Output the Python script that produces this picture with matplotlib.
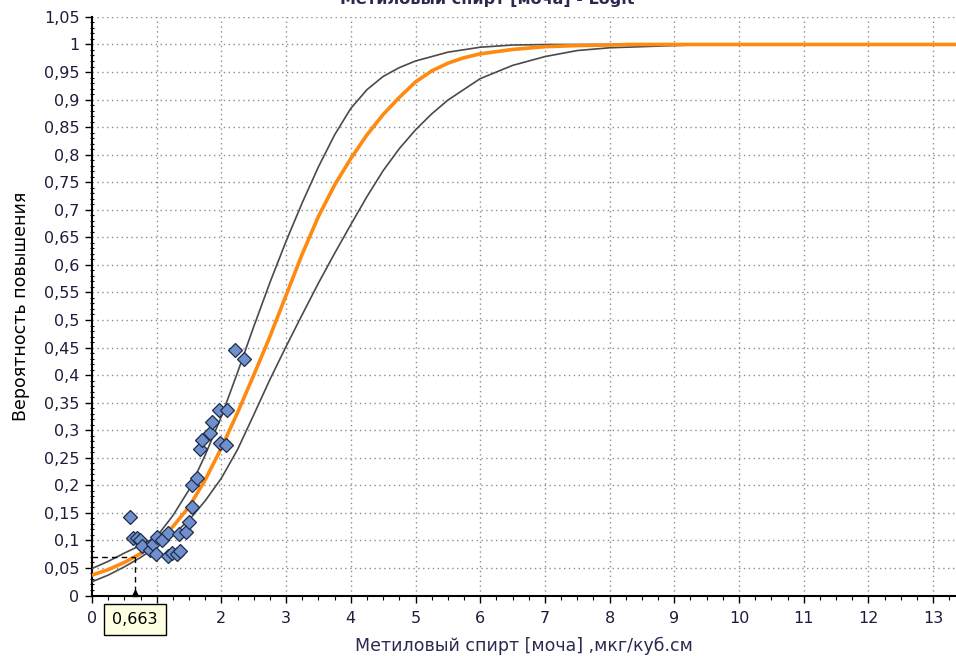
import matplotlib
matplotlib.use("Agg")
import matplotlib.pyplot as plt
from matplotlib.ticker import MultipleLocator, FuncFormatter

# Observed points
obs_x = [0.59, 0.64, 0.69, 0.74, 0.77, 0.90, 0.94, 0.99, 1.00, 1.08, 1.18, 1.18,
         1.23, 1.31, 1.36, 1.35, 1.45, 1.50, 1.55, 1.54, 1.62, 1.67, 1.70, 1.82,
         1.85, 1.96, 2.08, 1.98, 2.07, 2.21, 2.35]
obs_y = [0.143, 0.105, 0.104, 0.100, 0.089, 0.083, 0.094, 0.075, 0.107, 0.101, 0.113, 0.072,
         0.077, 0.075, 0.080, 0.112, 0.116, 0.133, 0.160, 0.201, 0.214, 0.265, 0.282, 0.295,
         0.315, 0.336, 0.336, 0.277, 0.273, 0.446, 0.429]

# Fitted probability curve
fit_x = [0, 0.25, 0.5, 0.75, 1.0, 1.25, 1.5, 1.75, 2.0, 2.25, 2.5, 2.75, 3.0, 3.25, 3.5,
         3.75, 4.0, 4.25, 4.5, 4.75, 5.0, 5.25, 5.5, 5.75, 6.0, 6.5, 7.0, 7.5, 8.0, 8.3, 13.5]
fit_y = [0.037, 0.047, 0.060, 0.076, 0.096, 0.125, 0.161, 0.210, 0.268, 0.332, 0.400, 0.470,
         0.545, 0.620, 0.688, 0.745, 0.793, 0.836, 0.873, 0.904, 0.932, 0.952, 0.966, 0.976,
         0.983, 0.991, 0.996, 0.998, 0.999, 1.0, 1.0]

# Upper confidence band
upper_x = [0, 0.25, 0.5, 0.75, 1.0, 1.25, 1.5, 1.75, 2.0, 2.25, 2.5, 2.75, 3.0, 3.25, 3.5,
           3.75, 4.0, 4.25, 4.5, 4.75, 5.0, 5.5, 6.0, 6.5, 7.1, 13.5]
upper_y = [0.049, 0.062, 0.077, 0.091, 0.107, 0.145, 0.192, 0.255, 0.325, 0.405, 0.488, 0.568,
           0.643, 0.713, 0.778, 0.836, 0.884, 0.918, 0.942, 0.958, 0.970, 0.986, 0.995, 0.999,
           1.0, 1.0]

# Lower confidence band
lower_x = [0, 0.25, 0.5, 0.75, 1.0, 1.25, 1.5, 1.75, 2.0, 2.25, 2.5, 2.75, 3.0, 3.25, 3.5,
           3.75, 4.0, 4.25, 4.5, 4.75, 5.0, 5.25, 5.5, 6.0, 6.5, 7.0, 7.5, 8.0, 8.5, 9.0, 9.6, 13.5]
lower_y = [0.025, 0.037, 0.052, 0.069, 0.089, 0.110, 0.137, 0.172, 0.213, 0.265, 0.328, 0.392,
           0.452, 0.510, 0.567, 0.621, 0.673, 0.724, 0.771, 0.811, 0.845, 0.874, 0.899, 0.938,
           0.962, 0.978, 0.989, 0.994, 0.996, 0.998, 1.0, 1.0]

# Cursor readout
cursor_x = 0.663
cursor_y = 0.070
cursor_text = "0,663"

title = "Метиловый спирт [моча] - Logit"
x_label = "Метиловый спирт [моча] ,мкг/куб.см"
y_label = "Вероятность повышения"

plt.rcParams["font.family"] = ["DejaVu Sans"]
tick_color = "#1c1c3c"

fig = plt.figure(figsize=(9.56, 6.56), dpi=100, facecolor="white")
ax = fig.add_axes([92 / 956, 0.0922, 1 - 92 / 956, 0.882])
ax.set_xlim(0, (956 - 92) / 64.7)
ax.set_ylim(0, 1.05)

for s in ("top", "right"):
    ax.spines[s].set_visible(False)
for s in ("left", "bottom"):
    ax.spines[s].set_linewidth(1.5)
    ax.spines[s].set_color("black")

ax.xaxis.set_major_locator(MultipleLocator(1))
ax.xaxis.set_minor_locator(MultipleLocator(0.25))
ax.yaxis.set_major_locator(MultipleLocator(0.05))
ax.yaxis.set_minor_locator(MultipleLocator(0.01))


def comma_fmt(v, pos):
    s = f"{v:.2f}".rstrip("0").rstrip(".")
    return s.replace(".", ",")


ax.xaxis.set_major_formatter(FuncFormatter(lambda v, p: f"{int(round(v))}"))
ax.yaxis.set_major_formatter(FuncFormatter(comma_fmt))

ax.tick_params(axis="both", which="major", direction="out", length=5, width=1,
               labelsize=11.5, labelcolor=tick_color, pad=4)
ax.tick_params(axis="x", which="major", pad=6)
ax.tick_params(axis="y", which="minor", direction="inout", length=3, width=0.8)
ax.tick_params(axis="x", which="minor", direction="out", length=3, width=0.8)

ax.grid(True, which="major", color="#8c8c8c", linestyle=(0, (1, 2.5)), linewidth=1)
ax.set_axisbelow(True)

ax.plot(upper_x, upper_y, color="#4a4a4a", lw=1.2, zorder=3)
ax.plot(lower_x, lower_y, color="#4a4a4a", lw=1.2, zorder=3)
ax.plot(fit_x, fit_y, color="#ff8a10", lw=2.6, zorder=4)

ax.plot(obs_x, obs_y, linestyle="none", marker="D", markersize=7.5,
        markerfacecolor="#6f90cc", markeredgecolor="#1e2c48", markeredgewidth=0.9, zorder=5)

# Cursor crosshair
ax.plot([0, cursor_x], [cursor_y, cursor_y], color="black", lw=1, linestyle=(0, (4, 3)), zorder=6)
ax.plot([cursor_x, cursor_x], [cursor_y, 0], color="black", lw=1, linestyle=(0, (4, 3)), zorder=6)
ax.plot([cursor_x], [0.004], marker="^", color="black", markersize=4, zorder=7, clip_on=False)
ax.annotate(cursor_text, xy=(cursor_x, 0), xycoords="data", xytext=(0, -17),
            textcoords="offset points", ha="center", va="center", fontsize=11.5,
            color="black", zorder=20,
            bbox=dict(boxstyle="square,pad=0.5", facecolor="#ffffe1", edgecolor="black", lw=1),
            annotation_clip=False)

ax.set_xlabel(x_label, fontsize=12.5, color="#2a2a50", labelpad=8)
ax.set_ylabel(y_label, fontsize=12.5, color="black", labelpad=10)

fig.text(0.51, 1 - 4 / 656, title, ha="center", va="baseline", fontsize=11.5,
         color="#2a2a50", fontweight="bold")

fig.savefig("out.png", dpi=100, facecolor="white")
